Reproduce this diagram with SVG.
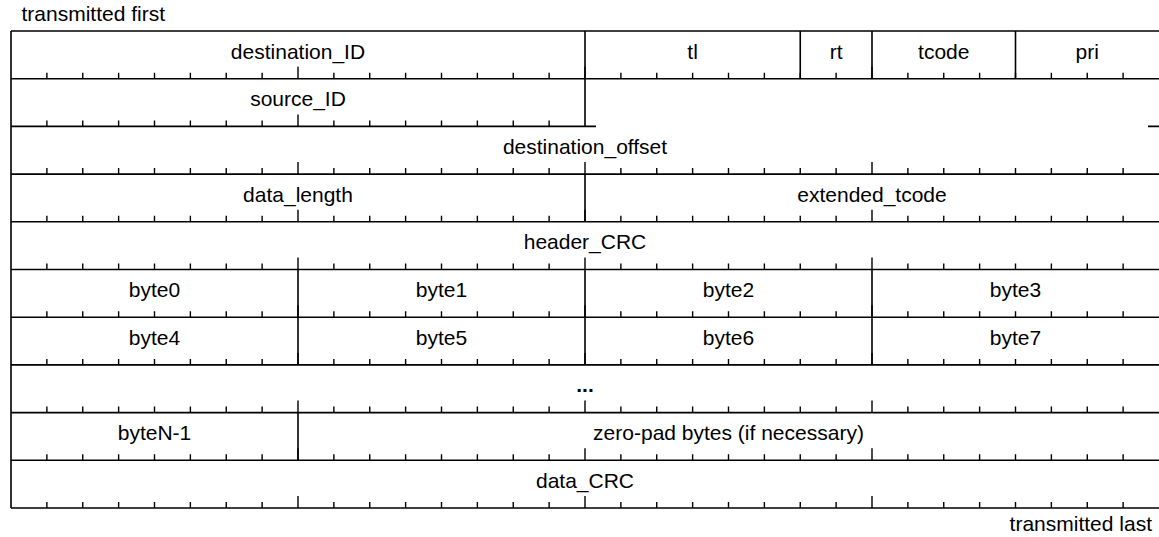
<svg xmlns="http://www.w3.org/2000/svg" xmlns:xlink="http://www.w3.org/1999/xlink" width="1159" height="537" viewBox="0 0 1159 537">
<style>
.ln{stroke:#000;stroke-width:1.6;fill:none}
.tk{stroke:#000;stroke-width:1.4;fill:none}
text{font-family:"Liberation Sans",Arial,sans-serif;font-size:21px;fill:#000}
.c{text-anchor:middle}
.b{font-weight:bold}
</style>
<defs>
<path id="ticksL" class="tk" d="M46.875 0v-6M82.75 0v-6M118.625 0v-6M154.5 0v-6M190.375 0v-6M226.25 0v-6M262.125 0v-6M298 0v-12M333.875 0v-6M369.75 0v-6M405.625 0v-6M441.5 0v-6M477.375 0v-6M513.25 0v-6M549.125 0v-6"/>
<path id="ticksR" class="tk" d="M585 0v-12M620.875 0v-6M656.75 0v-6M692.625 0v-6M728.5 0v-6M764.375 0v-6M800.25 0v-6M836.125 0v-6M872 0v-12M907.875 0v-6M943.75 0v-6M979.625 0v-6M1015.5 0v-6M1051.375 0v-6M1087.25 0v-6M1123.125 0v-6"/>
</defs>
<text x="21.5" y="21">transmitted first</text>
<text x="1152" y="531" text-anchor="end">transmitted last</text>
<g id="connectors">
<path class="ln" d="M11 31H1159M11 78.7H1159M11 126.4H596M1148 126.4H1159M11 174.1H1159M11 221.8H1159M11 269.5H1159M11 317.2H1159M11 364.9H1159M11 412.6H1159M11 460.3H1159M11 508H1159"/>
<path class="ln" d="M11 31V508M585 31V126.4M800.25 31V78.7M872 31V78.7M1015.5 31V78.7M585 174.1V221.8M298 269.5V364.9M585 269.5V364.9M872 269.5V364.9M298 412.6V460.3"/>
<use xlink:href="#ticksL" y="78.7"/><use xlink:href="#ticksR" y="78.7"/>
<use xlink:href="#ticksL" y="126.4"/>
<use xlink:href="#ticksL" y="174.1"/><use xlink:href="#ticksR" y="174.1"/>
<use xlink:href="#ticksL" y="221.8"/><use xlink:href="#ticksR" y="221.8"/>
<use xlink:href="#ticksL" y="269.5"/><use xlink:href="#ticksR" y="269.5"/>
<use xlink:href="#ticksL" y="317.2"/><use xlink:href="#ticksR" y="317.2"/>
<use xlink:href="#ticksL" y="364.9"/><use xlink:href="#ticksR" y="364.9"/>
<use xlink:href="#ticksL" y="412.6"/><use xlink:href="#ticksR" y="412.6"/>
<use xlink:href="#ticksL" y="460.3"/><use xlink:href="#ticksR" y="460.3"/>
<use xlink:href="#ticksL" y="508"/><use xlink:href="#ticksR" y="508"/>
</g>
<g id="destination_ID"><text class="c" x="298" y="58.5">destination_ID</text></g>
<g id="tl"><text class="c" x="692.6" y="58.5">tl</text></g>
<g id="rt"><text class="c" x="836.1" y="58.5">rt</text></g>
<g id="tcode"><text class="c" x="943.75" y="58.5">tcode</text></g>
<g id="pri"><text class="c" x="1087.25" y="58.5">pri</text></g>
<g id="source_ID"><text class="c" x="298" y="106.2">source_ID</text></g>
<g id="destination_offset"><text class="c" x="585" y="153.9">destination_offset</text></g>
<g id="data_length"><text class="c" x="298" y="201.6">data_length</text></g>
<g id="extended_tcode"><text class="c" x="872" y="201.6">extended_tcode</text></g>
<g id="header_CRC"><text class="c" x="585" y="249.3">header_CRC</text></g>
<g id="byte0"><text class="c" x="154.5" y="297">byte0</text></g>
<g id="byte1"><text class="c" x="441.5" y="297">byte1</text></g>
<g id="byte2"><text class="c" x="728.5" y="297">byte2</text></g>
<g id="byte3"><text class="c" x="1015.5" y="297">byte3</text></g>
<g id="byte4"><text class="c" x="154.5" y="344.7">byte4</text></g>
<g id="byte5"><text class="c" x="441.5" y="344.7">byte5</text></g>
<g id="byte6"><text class="c" x="728.5" y="344.7">byte6</text></g>
<g id="byte7"><text class="c" x="1015.5" y="344.7">byte7</text></g>
<g id="ellipsis"><text class="c b" x="585" y="392.4">...</text></g>
<g id="byteN-1"><text class="c" x="154.5" y="440.1">byteN-1</text></g>
<g id="zero-pad"><text class="c" x="728.5" y="440.1">zero-pad bytes (if necessary)</text></g>
<g id="data_CRC"><text class="c" x="585" y="487.8">data_CRC</text></g>
</svg>
